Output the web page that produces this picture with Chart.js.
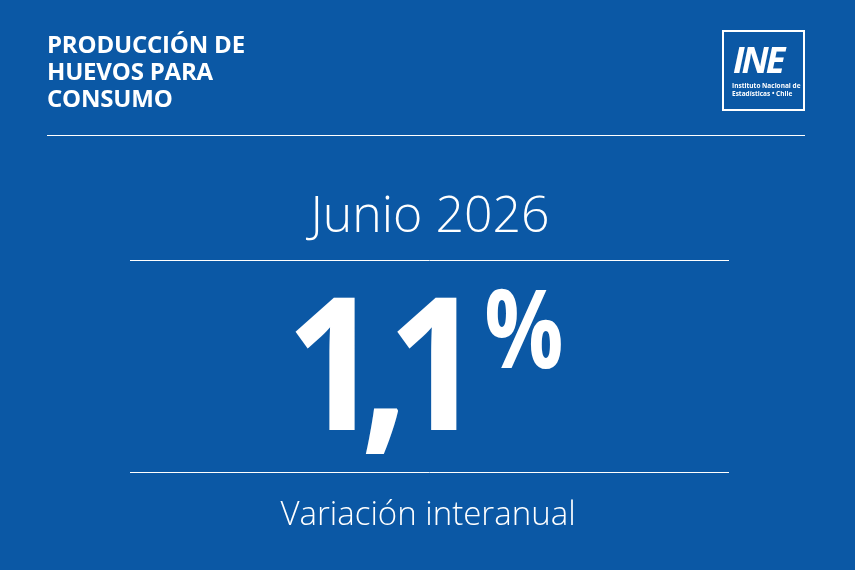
<!DOCTYPE html>
<html>
<head>
<meta charset="utf-8">
<script src="https://cdn.jsdelivr.net/npm/chart.js@4.4.1/dist/chart.umd.min.js"></script>
<style>
    html, body { margin: 0; padding: 0; }
    body { width: 855px; height: 570px; background: #0b58a5; position: relative; overflow: hidden; font-family: "Open Sans", sans-serif; color: #fff; }
    #header { position: absolute; left: 47px; top: 30px; font-weight: 700; font-size: 24px; line-height: 27px; letter-spacing: -0.2px; }
    #rule { position: absolute; left: 47px; top: 135px; width: 758px; height: 1px; background: #fff; }
    #logo { position: absolute; left: 722px; top: 30px; width: 79px; height: 77px; border: 2px solid #fff; }
    #logo .mark { position: absolute; left: 9px; top: 10px; font-size: 36px; line-height: 36px; font-weight: 700; font-style: italic; letter-spacing: -3px; }
    #logo .name { position: absolute; left: 8px; top: 50px; font-size: 6.5px; line-height: 8px; font-weight: 700; white-space: nowrap; }
    #wrap { position: absolute; left: 0; top: 0; width: 855px; height: 570px; }
</style>
</head>
<body>
<div id="wrap"><canvas id="kpiChart"></canvas></div>
<div id="header">PRODUCCIÓN DE<br>HUEVOS PARA<br>CONSUMO</div>
<div id="rule"></div>
<div id="logo">
    <div class="mark">INE</div>
    <div class="name">Instituto Nacional de<br>Estadísticas • Chile</div>
</div>
<script>
var periods = ["Junio 2026"];
var values = [1.1];
var captions = ["Variación interanual"];

// glyph by glyph so the digits sit tight like the original type
function drawValue(ctx, txt, cx) {
    var big = "700 185px 'Open Sans'";
    var small = "700 110px 'Open Sans'";
    var parts = [];
    var chars = txt.split("");
    for (var i = 0; i < chars.length; i++) {
        parts.push({ ch: chars[i], font: big, sx: 0.9, base: 430, gap: chars[i] == "," ? 10 : -2 });
    }
    parts.push({ ch: "%", font: small, sx: 0.8, base: 368, gap: 30 });

    var total = 0;
    parts.forEach(function (p, i) {
        ctx.font = p.font;
        var m = ctx.measureText(p.ch);
        p.left = m.actualBoundingBoxLeft;
        p.ink = (m.actualBoundingBoxLeft + m.actualBoundingBoxRight) * p.sx;
        if (i > 0) total += p.gap;
        total += p.ink;
    });

    var x = cx - total / 2;
    parts.forEach(function (p, i) {
        if (i > 0) x += p.gap;
        ctx.save();
        ctx.font = p.font;
        ctx.translate(x, p.base);
        ctx.scale(p.sx, 1);
        ctx.fillText(p.ch, p.left, 0);
        ctx.restore();
        x += p.ink;
    });
}

var kpiPlugin = {
    id: "kpi",
    afterDraw: function (chart) {
        var ctx = chart.ctx;
        var cx = 428;

        ctx.save();
        ctx.fillStyle = "#fff";
        ctx.strokeStyle = "#fff";
        ctx.lineWidth = 1;

        // period
        ctx.font = "300 50px 'Open Sans'";
        ctx.textAlign = "center";
        ctx.textBaseline = "alphabetic";
        ctx.fillText(periods[0], cx + 2, 232);

        // rules
        ctx.beginPath();
        ctx.moveTo(130, 260.5);
        ctx.lineTo(729, 260.5);
        ctx.moveTo(130, 472.5);
        ctx.lineTo(729, 472.5);
        ctx.stroke();

        // big value with raised percent
        ctx.textAlign = "left";
        drawValue(ctx, values[0].toFixed(1).replace(".", ","), cx);

        // caption
        ctx.font = "300 33px 'Open Sans'";
        ctx.textAlign = "center";
        ctx.fillText(captions[0], cx, 525);
        ctx.restore();
    }
};

new Chart(document.getElementById("kpiChart"), {
    type: "bar",
    data: {
        labels: periods,
        datasets: [{ data: values, backgroundColor: "rgba(0,0,0,0)" }]
    },
    options: {
        responsive: true,
        maintainAspectRatio: false,
        animation: false,
        devicePixelRatio: 1,
        events: [],
        scales: {
            x: { display: false },
            y: { display: false }
        },
        plugins: {
            legend: { display: false },
            tooltip: { enabled: false }
        }
    },
    plugins: [kpiPlugin]
});
</script>
</body>
</html>
